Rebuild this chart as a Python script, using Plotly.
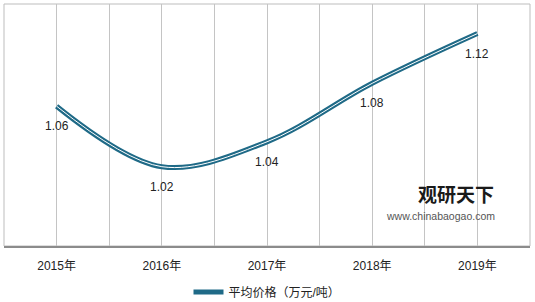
import plotly.graph_objects as go

years = ["2015年", "2016年", "2017年", "2018年", "2019年"]
prices = [1.064, 1.019, 1.0375, 1.081, 1.118]
series_name = "平均价格（万元/吨）"

xpos = list(range(len(years)))
LINE = "#1f6a87"
FONT = "Liberation Sans, Noto Sans CJK SC, sans-serif"

fig = go.Figure()
fig.add_trace(go.Scatter(
    x=xpos, y=prices, mode="lines", name=series_name,
    line=dict(color=LINE, width=5, shape="spline", smoothing=1.0),
    hoverinfo="skip",
))
fig.add_trace(go.Scatter(
    x=xpos, y=prices, mode="lines", showlegend=False,
    line=dict(color="white", width=1, shape="spline", smoothing=1.0),
    hoverinfo="skip",
))
for xi, v in zip(xpos, prices):
    fig.add_annotation(x=xi, y=v, text=f"{v:.2f}", showarrow=False,
                       yshift=-20, font=dict(size=12, color="#222222", family=FONT))

# watermark
fig.add_annotation(xref="paper", yref="paper", x=0.935, y=0.155, text="<b>观研天下</b>",
                   showarrow=False, xanchor="right", font=dict(size=19, color="#1a1a1a", family=FONT))
fig.add_annotation(xref="paper", yref="paper", x=0.937, y=0.09, text="www.chinabaogao.com",
                   showarrow=False, xanchor="right", font=dict(size=10.5, color="#555555", family=FONT))

fig.add_shape(type="rect", xref="paper", yref="paper", x0=0, x1=1, y0=0, y1=1,
              line=dict(color="#bdbdbd", width=1), layer="below")

fig.update_layout(
    width=535, height=302,
    margin=dict(l=4, r=5, t=4, b=56, autoexpand=False),
    paper_bgcolor="white", plot_bgcolor="white",
    font=dict(family=FONT, size=12, color="#222222"),
    showlegend=True,
    legend=dict(orientation="h", x=0.5, xanchor="center", y=-0.19, yanchor="middle",
                font=dict(size=12, color="#222222"), itemwidth=30),
    xaxis=dict(
        range=[-0.5, 4.5], tickmode="array", tickvals=xpos, ticktext=years,
        showgrid=True, gridcolor="#c4c4c4", gridwidth=1,
        minor=dict(dtick=0.5, tick0=-0.5, showgrid=True, gridcolor="#c4c4c4", gridwidth=1),
        showline=True, linecolor="#8c8c8c", linewidth=1.5,
        ticks="", ticklabelstandoff=8, zeroline=False,
        tickfont=dict(size=12, color="#222222"),
    ),
    yaxis=dict(
        range=[0.96, 1.14], showgrid=False, showticklabels=False,
        zeroline=False, showline=False, ticks="",
    ),
)

fig.write_html("out.html")
